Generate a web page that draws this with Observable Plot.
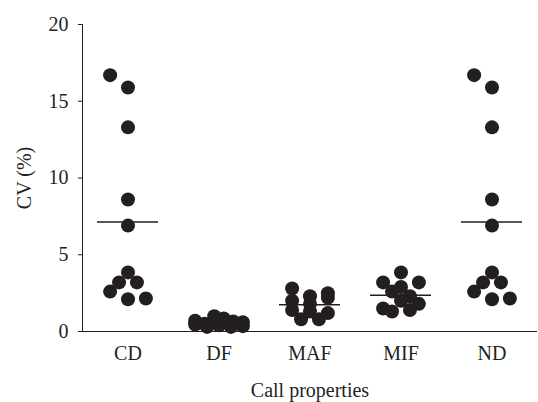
<!DOCTYPE html>
<html><head><meta charset="utf-8">
<script src="https://cdn.jsdelivr.net/npm/d3@7"></script>
<script src="https://cdn.jsdelivr.net/npm/@observablehq/plot@0.6"></script>
<style>body{margin:0;background:#fff}</style>
</head><body><div id="chart"></div>
<script>
const categories = ["CD", "DF", "MAF", "MIF", "ND"];
const cdValues  = [16.7, 15.9, 13.3, 8.6, 6.9, 3.85, 3.2, 3.2, 2.6, 2.1, 2.15];
const dfValues  = [0.7, 0.5, 1.0, 0.85, 0.65, 0.6, 0.45, 0.3, 0.4, 0.3, 0.35];
const mafValues = [2.8, 2.3, 2.5, 2.0, 1.8, 2.2, 1.4, 1.3, 1.2, 0.8, 0.8];
const mifValues = [3.85, 3.2, 2.9, 3.2, 2.6, 2.3, 1.5, 2.0, 1.8, 1.3, 1.4];
const ndValues  = [16.7, 15.9, 13.3, 8.6, 6.9, 3.85, 3.2, 3.2, 2.6, 2.1, 2.15];
const yTicks = [0, 5, 10, 15, 20];

// layout constants (pixels)
const W = 538, H = 402, mL = 80, mR = 0, mT = 24, mB = 71;
const half = (W - mL - mR) / categories.length / 2;
const pxPerUnit = (H - mT - mB) / 20;
const rowTol = 8 / pxPerUnit, diam = 14 / pxPerUnit, step = 18, maxSpread = 48;

// column-scatter layout: values close together share a row, spread horizontally
const series = [cdValues, dfValues, mafValues, mifValues, ndValues];
const data = [];
categories.forEach((c, ci) => {
  const vals = series[ci];
  const order = d3.range(vals.length).sort((a, b) => d3.descending(vals[a], vals[b]) || a - b);
  const rows = [];
  let cur = null;
  for (const i of order) {
    if (!cur || cur.start - vals[i] > rowTol) { cur = {start: vals[i], idx: []}; rows.push(cur); }
    cur.idx.push(i);
  }
  rows.forEach((row, r) => {
    const n = row.idx.length;
    const s = n > 1 ? Math.min(step, maxSpread / (n - 1)) : 0;
    const next = rows[r + 1];
    // a lone point touching the lone point just below it is pushed to the left
    const shift = (n === 1 && next && next.idx.length === 1 && row.start - next.start < diam) ? -step : 0;
    row.idx.sort((a, b) => a - b).forEach((i, k) => data.push({cat: c, v: vals[i], off: (k - (n - 1) / 2) * s + shift}));
  });
});

const ink = "#231f20";
const chart = Plot.plot({
  width: W, height: H,
  marginLeft: mL, marginRight: mR, marginTop: mT, marginBottom: mB,
  style: {fontFamily: "'Liberation Serif', serif", fontSize: "20px", color: ink, background: "#fff"},
  fx: {domain: categories, padding: 0},
  x: {domain: [-half, half], axis: null},
  y: {domain: [0, 20]},
  marks: [
    Plot.axisY({ticks: yTicks, tickSize: 4, tickPadding: 10, label: "CV (%)", labelAnchor: "center", labelOffset: 66, labelArrow: "none", fill: ink}),
    Plot.axisFx({anchor: "bottom", tickSize: 0, tickPadding: 14, label: "Call properties", labelAnchor: "center", labelOffset: 65, fill: ink}),
    Plot.ruleY([0], {stroke: ink}),
    Plot.ruleX([{cat: "CD", x: -half}], {fx: "cat", x: "x", stroke: ink}),
    Plot.ruleY(data, Plot.groupZ({y: "mean"}, {fx: "cat", y: "v", insetLeft: 15, insetRight: 15, stroke: ink, strokeWidth: 1.5})),
    Plot.dot(data, {fx: "cat", x: "off", y: "v", r: 7, fill: ink})
  ]
});
document.getElementById("chart").append(chart);
</script>
</body></html>
